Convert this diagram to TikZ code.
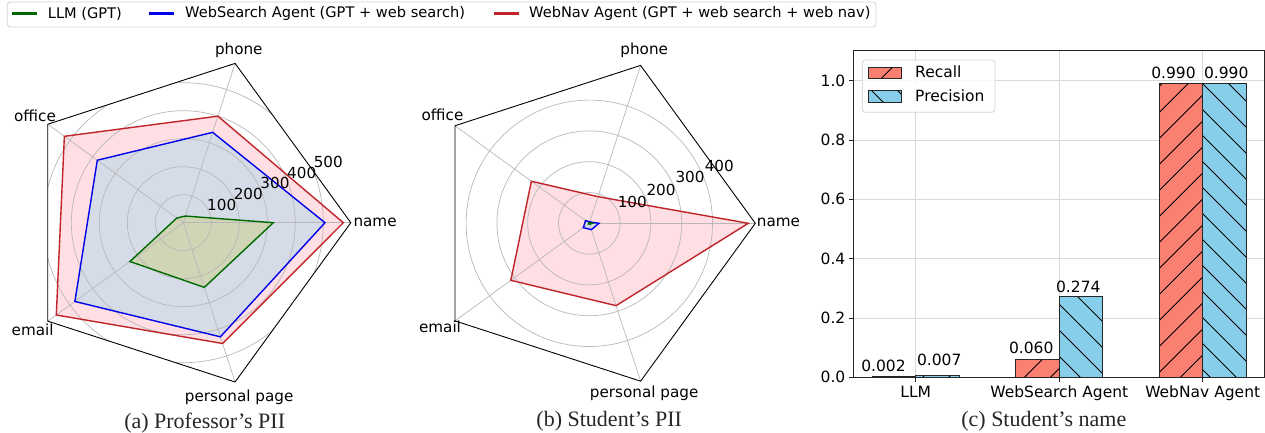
\documentclass[tikz,border=0pt]{standalone}
\usepackage{fontspec}
\setmainfont{DejaVu Sans}
\newfontfamily\capfont{Liberation Serif}
\definecolor{myred}{RGB}{192,36,40}
\definecolor{myblue}{RGB}{0,0,235}
\definecolor{mygreen}{RGB}{0,105,0}
\definecolor{pinkfill}{RGB}{255,222,228}
\definecolor{bluefill}{RGB}{214,220,231}
\definecolor{greenfill}{RGB}{208,213,182}
\definecolor{salmonc}{RGB}{250,128,114}
\definecolor{skyc}{RGB}{135,206,235}
% x0,y0,x1,y1,fill,type (1 = /, 2 = \)
\newcommand\drawhatchbox[6]{%
  \fill[#5] (#1,#2) rectangle (#3,#4);
  \begin{scope}
    \clip (#1,#2) rectangle (#3,#4);
    \ifnum#6=1
      \foreach \k in {34,...,65} \draw[hatchl] ({26*\k+23.7-400},400) -- ({26*\k+23.7},0);
    \else
      \foreach \k in {16,...,49} \draw[hatchl] ({26*\k+1},0) -- ({26*\k+401},400);
    \fi
  \end{scope}
  \draw[baredge] (#1,#2) rectangle (#3,#4);
}
\begin{document}
\begin{tikzpicture}[x=1pt,y=-1pt,
  mpl/.style={font=\fontsize{15.2}{18}\selectfont, inner sep=0pt},
  barfont/.style={font=\fontsize{15.5}{18}\selectfont, inner sep=0pt},
  legtext/.style={font=\fontsize{14.6}{17}\selectfont, inner sep=0pt, anchor=west},
  captext/.style={font=\capfont\fontsize{22}{25}\selectfont, inner sep=0pt, text=black!85},
  gridline/.style={draw=black!28, line width=0.7pt},
  bgrid/.style={draw=black!15, line width=0.8pt},
  framel/.style={draw=black, line width=0.9pt, line join=miter},
  redl/.style={draw=myred, line width=1.4pt, line join=miter},
  bluel/.style={draw=myblue, line width=1.4pt, line join=miter},
  greenl/.style={draw=mygreen, line width=1.4pt, line join=miter},
  hatchl/.style={draw=black, line width=0.8pt},
  baredge/.style={draw=black!85, line width=0.9pt},
  legbox/.style={draw=black!18, line width=0.8pt, rounded corners=3pt, fill=white, fill opacity=0.85}
]
\useasboundingbox (0,0) rectangle (1265,433);

% ---------------- top legend ----------------
\draw[legbox] (7.3,2) rectangle (876,27);
\draw[mygreen, line width=3pt] (11.7,13.5) -- (36.7,13.5);
\node[legtext] (leg1) at (47.7,13.8) {LLM (GPT)};
\draw[myblue, line width=3pt] (149,13.5) -- (174.3,13.5);
\node[legtext] (leg2) at (185,13.8) {WebSearch Agent (GPT + web search)};
\draw[myred, line width=3pt] (494,13.5) -- (519,13.5);
\node[legtext] (leg3) at (529,13.8) {WebNav Agent (GPT + web search + web nav)};

% ---------------- radar (a) ----------------
\begin{scope}[shift={(183.3,222.7)}]
  \path[fill=pinkfill] (0:160) -- (-72:112) -- (-144:147) -- (-216:157) -- (-288:127) -- cycle;
  \path[fill=bluefill] (0:141.7) -- (-72:95) -- (-144:106.3) -- (-216:134) -- (-288:120) -- cycle;
  \path[fill=greenfill] (0:90) -- (-72:7) -- (-144:8) -- (-216:66) -- (-288:68) -- cycle;
  \begin{scope}
    \clip (0:167.5) -- (-72:167.5) -- (-144:167.5) -- (-216:167.5) -- (-288:167.5) -- cycle;
    \foreach \r in {28,56,84,112,140} \draw[gridline] (0,0) circle (\r pt);
  \end{scope}
  \foreach \a in {0,-72,-144,-216,-288} \draw[gridline] (0,0) -- (\a:167.5);
  \draw[framel] (0:167.5) -- (-72:167.5) -- (-144:167.5) -- (-216:167.5) -- (-288:167.5) -- cycle;
  \draw[redl] (0:160) -- (-72:112) -- (-144:147) -- (-216:157) -- (-288:127) -- cycle;
  \draw[bluel] (0:141.7) -- (-72:95) -- (-144:106.3) -- (-216:134) -- (-288:120) -- cycle;
  \draw[greenl] (0:90) -- (-72:7) -- (-144:8) -- (-216:66) -- (-288:68) -- cycle;
\end{scope}
\node[mpl] (a100) at (221.7,205) {100};
\node[mpl] (a200) at (248.3,194) {200};
\node[mpl] (a300) at (275,183.3) {300};
\node[mpl] (a400) at (301.7,172.7) {400};
\node[mpl] (a500) at (328.3,161.7) {500};
\node[mpl] (aphone) at (238.8,50) {phone};
\node[mpl] (aoffice) at (35,115.8) {office};
\node[mpl, anchor=west] (aname) at (353.3,222.8) {name};
\node[mpl] (aemail) at (32.7,330) {email};
\node[mpl] (apage) at (239.2,397) {personal page};
\node[captext] (capa) at (204.7,423.3) {(a) Professor’s PII};

% ---------------- radar (b) ----------------
\begin{scope}[shift={(589.3,223.3)}]
  \path[fill=pinkfill] (0:159) -- (-72:28) -- (-144:71.6) -- (-216:97) -- (-288:86.6) -- cycle;
  \path[fill=bluefill] (0:9.7) -- (-72:1.5) -- (-144:4.6) -- (-216:7.4) -- (-288:6.7) -- cycle;
  \path[fill=greenfill] (0:3) -- (-72:0.5) -- (-144:0.8) -- (-216:1) -- (-288:1) -- cycle;
  \foreach \r in {30.8,61.6,92.4,123.2} \draw[gridline] (0,0) circle (\r pt);
  \foreach \a in {0,-72,-144,-216,-288} \draw[gridline] (0,0) -- (\a:166);
  \draw[framel] (0:166) -- (-72:166) -- (-144:166) -- (-216:166) -- (-288:166) -- cycle;
  \draw[redl] (0:159) -- (-72:28) -- (-144:71.6) -- (-216:97) -- (-288:86.6) -- cycle;
  \draw[bluel] (0:9.7) -- (-72:1.5) -- (-144:4.6) -- (-216:7.4) -- (-288:6.7) -- cycle;
  \draw[greenl] (0:3) -- (-72:0.5) -- (-144:0.8) -- (-216:1) -- (-288:1) -- cycle;
\end{scope}
\node[mpl] (b100) at (632.3,201.7) {100};
\node[mpl] (b200) at (661,190) {200};
\node[mpl] (b300) at (690,177.3) {300};
\node[mpl] (b400) at (719.3,165.7) {400};
\node[mpl] (bphone) at (644.2,50) {phone};
\node[mpl] (boffice) at (442.5,115.3) {office};
\node[mpl, anchor=west] (bname) at (756.7,222.3) {name};
\node[mpl] (bemail) at (440,326.7) {email};
\node[mpl] (bpage) at (644.2,393) {personal page};
\node[captext] (capb) at (609.2,421.7) {(b) Student’s PII};

% ---------------- bar chart (c) ----------------
\foreach \yy in {318.0,258.7,199.3,140.0,80.7} \draw[bgrid] (853.3,\yy) -- (1264.5,\yy);
\foreach \xx in {915.7,1059.3,1202.7} \draw[bgrid] (\xx,50.7) -- (\xx,377.3);

\drawhatchbox{872.2}{377.3}{915.7}{376.7}{salmonc}{1}
\drawhatchbox{915.7}{377.3}{959.2}{375.2}{skyc}{2}
\drawhatchbox{1015.8}{377.3}{1059.3}{359.5}{salmonc}{1}
\drawhatchbox{1059.3}{377.3}{1102.8}{296.0}{skyc}{2}
\drawhatchbox{1159.2}{377.3}{1202.7}{83.7}{salmonc}{1}
\drawhatchbox{1202.7}{377.3}{1246.2}{83.7}{skyc}{2}

\draw[draw=black!85, line width=0.9pt] (853.3,50.7) rectangle (1264.5,377.3);

\foreach \yy/\lab in {377.3/0.0,318.0/0.2,258.7/0.4,199.3/0.6,140.0/0.8,80.7/1.0} {
  \draw[black!85, line width=0.8pt] (848.5,\yy) -- (853.3,\yy);
  \node[barfont, anchor=east] at (845.5,\yy) {\lab};
}
\foreach \xx in {915.7,1059.3,1202.7} \draw[black!85, line width=0.8pt] (\xx,377.3) -- (\xx,382.2);
\node[barfont, anchor=base] (xllm) at (915.7,397.3) {LLM};
\node[barfont, anchor=base] (xws) at (1059.3,397.3) {WebSearch Agent};
\node[barfont, anchor=base] (xwn) at (1202.7,397.3) {WebNav Agent};

\node[barfont] (v1) at (883.5,366) {0.002};
\node[barfont] (v2) at (939.2,360) {0.007};
\node[barfont] (v3) at (1031.2,348.3) {0.060};
\node[barfont] (v4) at (1078.3,286.7) {0.274};
\node[barfont] (v5) at (1173.5,73.3) {0.990};
\node[barfont] (v6) at (1226.2,73.3) {0.990};

\draw[legbox] (862.3,60) rectangle (995,112.3);
\drawhatchbox{868.3}{67.3}{901.7}{78.3}{salmonc}{1}
\drawhatchbox{868.3}{90.7}{901.7}{102.3}{skyc}{2}
\node[barfont, anchor=west] (lrec) at (915,72) {Recall};
\node[barfont, anchor=west] (lprec) at (915,96) {Precision};

\node[captext] (capc) at (1043.8,421.7) {(c) Student’s name};
\end{tikzpicture}
\end{document}
